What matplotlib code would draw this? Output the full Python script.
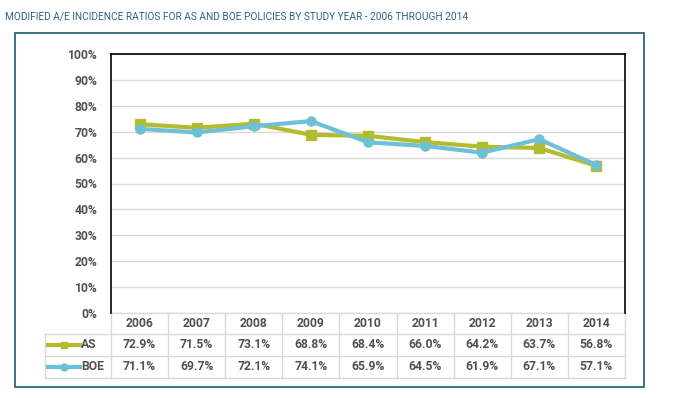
import matplotlib
matplotlib.use("Agg")
import matplotlib.pyplot as plt
import matplotlib.transforms as mtransforms
from matplotlib.patches import Rectangle
from matplotlib.lines import Line2D

# datos
years = ['2006', '2007', '2008', '2009', '2010', '2011', '2012', '2013', '2014']
as_vals = [72.9, 71.5, 73.1, 68.8, 68.4, 66.0, 64.2, 63.7, 56.8]
boe_vals = [71.1, 69.7, 72.1, 74.1, 65.9, 64.5, 61.9, 67.1, 57.1]
series_names = ['AS', 'BOE']
yticks = [0, 10, 20, 30, 40, 50, 60, 70, 80, 90, 100]

title = 'MODIFIED A/E INCIDENCE RATIOS FOR AS AND BOE POLICIES BY STUDY YEAR - 2006 THROUGH 2014'

c_as = '#B3BC2F'
c_boe = '#6DC0D5'
c_text = '#505050'
c_grid = '#D9D9D9'
c_title = '#2B6583'
c_box = '#1F5673'

plt.rcParams['font.family'] = ['Roboto', 'DejaVu Sans']
fs = 8.7

W, H = 693, 398
fig = plt.figure(figsize=(W / 100, H / 100), dpi=100)

# capa para elementos en pixeles
ov = fig.add_axes([0, 0, 1, 1], zorder=0)
ov.set_xlim(0, W)
ov.set_ylim(H, 0)
ov.axis('off')

# area del grafico
left, right, top, bottom = 111, 625, 54, 313
ax = fig.add_axes([left / W, 1 - bottom / H, (right - left) / W, (bottom - top) / H], zorder=2)
ax.patch.set_alpha(0)

x = list(range(len(years)))
ax.plot(x, as_vals, color=c_as, lw=3, marker='s', ms=6.5, zorder=3)
ax.plot(x, boe_vals, color=c_boe, lw=3, marker='o', ms=6.5, zorder=4)

ax.set_xlim(-0.5, len(years) - 0.5)
ax.set_ylim(0, 100)
ax.set_yticks(yticks)
ax.set_yticklabels([f'{t}%' for t in yticks], fontsize=fs, fontweight='bold', color=c_text)
ax.tick_params(axis='y', length=0, pad=10)
ax.set_xticks([])
ax.grid(axis='y', color=c_grid, lw=1)
ax.set_axisbelow(True)
for s in ['left', 'top', 'right']:
    ax.spines[s].set_color('black')
    ax.spines[s].set_linewidth(1.2)
ax.spines['bottom'].set_visible(False)

# tabla de datos
trans = mtransforms.blended_transform_factory(ax.transData, ov.transData)
row_y = [313, 334, 356, 378]
tbl_left = 45
for yy in row_y[1:]:
    ov.plot([tbl_left, left], [yy, yy], color=c_grid, lw=1)
for yy in row_y:
    ax.plot([-0.5, len(years) - 0.5], [yy, yy], color=c_grid, lw=1, transform=trans, clip_on=False)
for i in range(len(years) + 1):
    ax.plot([i - 0.5, i - 0.5], [row_y[0], row_y[-1]], color=c_grid, lw=1, transform=trans, clip_on=False)
ov.plot([tbl_left, tbl_left], [row_y[1], row_y[-1]], color=c_grid, lw=1)

for i, yr in enumerate(years):
    ax.text(i, (row_y[0] + row_y[1]) / 2, yr, transform=trans, ha='center', va='center',
            fontsize=fs, fontweight='bold', color=c_text)
    ax.text(i, (row_y[1] + row_y[2]) / 2, f'{as_vals[i]:.1f}%', transform=trans, ha='center', va='center',
            fontsize=fs, fontweight='bold', color=c_text)
    ax.text(i, (row_y[2] + row_y[3]) / 2, f'{boe_vals[i]:.1f}%', transform=trans, ha='center', va='center',
            fontsize=fs, fontweight='bold', color=c_text)

# leyenda dentro de la tabla
for k, (name, col, mk) in enumerate(zip(series_names, [c_as, c_boe], ['s', 'o'])):
    yy = (row_y[k + 1] + row_y[k + 2]) / 2
    ov.add_line(Line2D([48, 80], [yy, yy], color=col, lw=3))
    ov.plot([64], [yy], marker=mk, color=col, ms=5)
    ov.text(81, yy, name, ha='left', va='center', fontsize=fs, fontweight='bold', color=c_text)

# marco exterior y titulo
ov.add_patch(Rectangle((15, 33), 629, 354, fill=False, edgecolor=c_box, lw=1.2))
ov.text(5, 16, title, ha='left', va='center', fontsize=7.3, color=c_title)

fig.savefig('out.png', dpi=100)
